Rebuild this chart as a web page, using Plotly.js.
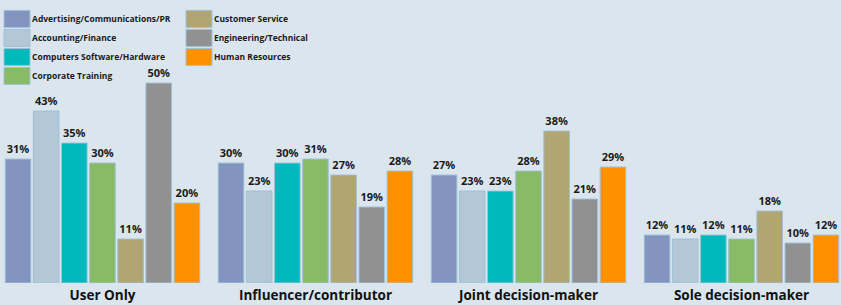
<!DOCTYPE html>
<html>
<head>
<meta charset="utf-8">
<script src="https://cdn.plot.ly/plotly-3.0.1.min.js"></script>
<style>html,body{margin:0;padding:0;background:#dbe5ed;}#chart{width:841px;height:305px;}</style>
</head>
<body>
<div id="chart"></div>
<script>
const categories = ["User Only", "Influencer/contributor", "Joint decision-maker", "Sole decision-maker"];
const seriesNames = ["Advertising/Communications/PR", "Accounting/Finance", "Computers Software/Hardware", "Corporate Training", "Customer Service", "Engineering/Technical", "Human Resources"];
const advertising = [31, 30, 27, 12];
const accounting = [43, 23, 23, 11];
const computers = [35, 30, 23, 12];
const corporate = [30, 31, 28, 11];
const customerService = [11, 27, 38, 18];
const engineering = [50, 19, 21, 10];
const humanResources = [20, 28, 29, 12];
const seriesValues = [advertising, accounting, computers, corporate, customerService, engineering, humanResources];
const colors = ["#8494c0", "#b3c7d7", "#00b9bd", "#89bb67", "#b1a673", "#919191", "#ff9100"];
const legendOf = ["legend", "legend", "legend", "legend", "legend2", "legend2", "legend2"];

const FONT = "Open Sans, Noto Sans, sans-serif";
const traces = seriesNames.map((name, i) => ({
  type: "bar",
  name: name,
  x: categories,
  y: seriesValues[i],
  legend: legendOf[i],
  marker: {color: colors[i], line: {color: "#9cc2d8", width: 1}},
  texttemplate: "%{y}%",
  textposition: "outside",
  textfont: {family: FONT, size: 11, color: "#1a1a1a", weight: 700},
  cliponaxis: false,
  hoverinfo: "skip"
}));

const layout = {
  width: 841, height: 305,
  paper_bgcolor: "#dbe5ed", plot_bgcolor: "#dbe5ed",
  margin: {l: 0, r: 0, t: 3, b: 22, autoexpand: false},
  barmode: "group", bargap: 0.075, bargroupgap: 0.09,
  showlegend: true,
  xaxis: {range: [-0.481, 3.467], showgrid: false, zeroline: false, showline: false, ticks: "",
          ticklabelstandoff: 2,
          tickfont: {family: FONT, size: 13.5, color: "#111", weight: 700}, fixedrange: true},
  yaxis: {range: [0, 70], visible: false, fixedrange: true},
  legend: {x: -0.0095, xanchor: "left", y: 0.995, yanchor: "top", orientation: "v", bgcolor: "rgba(0,0,0,0)",
           font: {family: FONT, size: 8.5, color: "#1a1a1a", weight: 700}, itemwidth: 30, tracegroupgap: 0},
  legend2: {x: 0.2069, xanchor: "left", y: 0.995, yanchor: "top", orientation: "v", bgcolor: "rgba(0,0,0,0)",
           font: {family: FONT, size: 8.5, color: "#1a1a1a", weight: 700}, itemwidth: 30, tracegroupgap: 0},
  font: {family: FONT}
};

Plotly.newPlot("chart", traces, layout, {displayModeBar: false, staticPlot: true}).then(() => {
  document.querySelectorAll(".legendpoints path").forEach(p => {
    p.setAttribute("d", "M18,8.5H-8V-8.5H18Z");
  });
});
</script>
</body>
</html>
